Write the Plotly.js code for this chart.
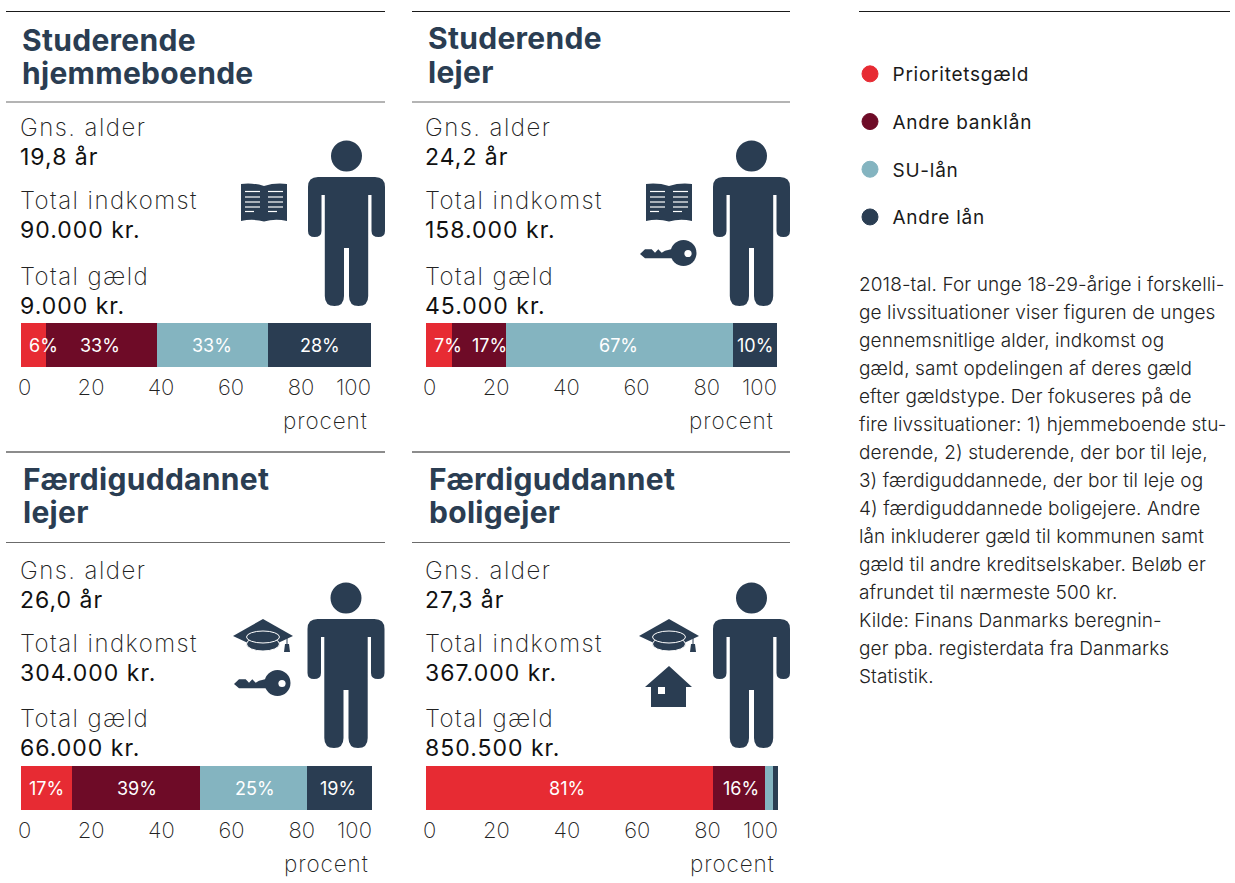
<!DOCTYPE html>
<html><head><meta charset="utf-8">
<script src="https://cdn.plot.ly/plotly-3.0.1.min.js"></script>
<style>html,body{margin:0;padding:0;background:#fff}#c{width:1235px;height:883px}
text.annotation-text[style*="font-size: 24px"]{letter-spacing:1.45px}
text.annotation-text[style*="font-size: 23px"]{letter-spacing:1px}
text.annotation-text[style*="font-size: 22.5px"]{letter-spacing:.9px}
text.annotation-text[style*="font-size: 30px"]{letter-spacing:.3px}
text.annotation-text[style*="font-size: 19px"]{letter-spacing:.1px}
text.legendtext{letter-spacing:.75px}
</style>
</head><body><div id="c"></div>
<script>
// ---------- data ----------
const seriesNames = ['Prioritetsgæld','Andre banklån','SU-lån','Andre lån'];
const panelTitles = [['Studerende','hjemmeboende'],['Studerende','lejer'],['Færdiguddannet','lejer'],['Færdiguddannet','boligejer']];
const ages = ['19,8 år','24,2 år','26,0 år','27,3 år'];
const incomes = ['90.000 kr.','158.000 kr.','304.000 kr.','367.000 kr.'];
const debts = ['9.000 kr.','45.000 kr.','66.000 kr.','850.500 kr.'];
const prioritets = [7.1,7.4,14.5,81.5];
const andreBank  = [31.7,15.4,36.5,14.8];
const suLaan     = [31.7,64.7,30.5,2.3];
const andreLaan  = [29.5,12.5,18.5,1.4];
const printedPct = [['6%','33%','33%','28%'],['7%','17%','67%','10%'],['17%','39%','25%','19%'],['81%','16%','','']];
const xTicks = [0,20,40,60,80,100];
const noteLines = ['2018-tal. For unge 18-29-årige i forskelli-','ge livssituationer viser figuren de unges','gennemsnitlige alder, indkomst og','gæld, samt opdelingen af deres gæld','efter gældstype. Der fokuseres på de','fire livssituationer: 1) hjemmeboende stu-','derende, 2) studerende, der bor til leje,','3) færdiguddannede, der bor til leje og','4) færdiguddannede boligejere. Andre','lån inkluderer gæld til kommunen samt','gæld til andre kreditselskaber. Beløb er','afrundet til nærmeste 500 kr.','Kilde: Finans Danmarks beregnin-','ger pba. registerdata fra Danmarks','Statistik.'];

// ---------- style / layout ----------
const colors = ['#E72B33','#6E0B27','#84B4C0','#2A3D52'];
const NAVY = '#2A3D52';
const W=1235,H=883;
const FONT='Inter, sans-serif';
const barBox=[[21,371,323,367],[426,777,323,367],[21,372,766,810],[426,778,766,810]];
const labelPos=[[6.3,22.6,54.6,85.4],[6.3,18,54.8,93.7],[7.4,33,66.7,90.3],[40,89.5,0,0]];
const textX=[18.5,423.5,18.5,423.5];
const rows=[[127.5,156.5,200.5,229.5,276.5,305.5],[127.5,156.5,200.5,229.5,276.5,305.5],[570.5,599.5,643.5,672.5,718.5,747.5],[570.5,599.5,643.5,672.5,718.5,747.5]];
const titleXY=[[21,39.5,72.5],[427,37.5,71.5],[22,478.5,511.5],[428,478.5,511.5]];
const ruleXY=[[6,385,11.5,102],[412,790,11.5,102],[6,385,452,542.5],[412,790,452,542.5]];
const person=[[346.5,177],[751.5,177],[346,619],[751.5,619]];

const data=[], annotations=[], shapes=[];
function txt(x,y,text,size,color,weight,anchor){
  annotations.push({xref:'x',yref:'y',x,y,text,showarrow:false,xanchor:anchor||'left',yanchor:'middle',
    font:{family:FONT,size,color,weight:weight||400},borderpad:0});
}
function rule(x0,x1,y,color){shapes.push({type:'line',xref:'x',yref:'y',x0,x1,y0:y,y1:y,line:{color,width:1.2}});}
function fill(path,c){shapes.push({type:'path',xref:'x',yref:'y',path,fillcolor:c||NAVY,line:{width:0}});}
function circ(cx,cy,rx,ry,c,lc){shapes.push({type:'circle',xref:'x',yref:'y',x0:cx-rx,x1:cx+rx,y0:cy-ry,y1:cy+ry,fillcolor:c||NAVY,line:lc?{color:lc,width:1}:{width:0}});}
function seg(x0,y0,x1,y1,w,c){shapes.push({type:'line',xref:'x',yref:'y',x0,y0,x1,y1,line:{color:c||'#fff',width:w||1}});}
function offs(cmds,dx,dy){return cmds.map(c=>c[0]+c.slice(1).map((v,i)=>(v+(i%2?dy:dx)).toFixed(1)).join(' ')).join(' ');}

function drawPerson(cx,y0){
  circ(cx,y0-21,15.5,15.5);
  fill(offs([['M',-28.5,0],['L',28.5,0],['Q',38.5,0,38.5,10],['L',38.5,54],['Q',38.5,60,32,60],['Q',25,60,25,54],['L',25,18],['L',21.7,18],
    ['L',21.7,119],['Q',21.7,129,12,129],['Q',2.5,129,2.5,119],['L',2.5,71],['L',-2.5,71],['L',-2.5,119],['Q',-2.5,129,-12,129],['Q',-21.7,129,-21.7,119],
    ['L',-21.7,18],['L',-25,18],['L',-25,54],['Q',-25,60,-32,60],['Q',-38.5,60,-38.5,54],['L',-38.5,10],['Q',-38.5,0,-28.5,0],['Z']],cx,y0));
}
function drawBook(dx,dy){
  fill(offs([['M',241,184],['Q',253,182.5,264,186],['Q',275,182.5,287,184],['L',287,221],['Q',275,218.5,264,221.5],['Q',253,218.5,241,221],['Z']],dx,dy));
  [191.5,197,202,207].forEach(y=>{seg(245+dx,y,260+dx,y,1.2);seg(268+dx,y,283+dx,y,1.2);});
  seg(245+dx,211.5,254+dx,211.5,1.2);seg(268+dx,211.5,277+dx,211.5,1.2);
}
function drawKey(dx,dy){
  fill(offs([['M',640,254],['L',645,249.3],['L',651.7,249.3],['L',655,252.7],['L',658.3,249.3],['L',661.7,252.7],['L',665,250.7],['L',675,248.3],['L',675,258.3],['L',645,258.3],['Z']],dx,dy));
  circ(683.5+dx,253+dy,13,13);
  circ(688+dx,253.5+dy,3.6,3.6,'#fff');
}
function drawCap(dx,dy){
  fill(offs([['M',233,636],['L',263,619],['L',293,636],['L',263,650],['Z']],dx,dy));
  circ(263+dx,644+dy,16.5,7,NAVY,'#fff');
  circ(263+dx,637+dy,16.5,6,NAVY,'#fff');
  seg(287+dx,637+dy,287+dx,647+dy,1,NAVY);
  fill(offs([['M',285,644],['L',289,644],['L',290,652],['L',284,652],['Z']],dx,dy));
}
function drawHouse(){
  fill(offs([['M',669,666],['L',692,687],['L',686,687],['L',686,707],['L',651,707],['L',651,687],['L',645,687],['Z']],0,0));
  shapes.push({type:'rect',xref:'x',yref:'y',x0:658,x1:665,y0:687,y1:694,fillcolor:'#fff',line:{width:0}});
}

const layout={width:W,height:H,margin:{l:0,r:0,t:0,b:0},paper_bgcolor:'#fff',plot_bgcolor:'rgba(0,0,0,0)',
  barmode:'stack',bargap:0,hovermode:false,showlegend:true,font:{family:FONT},
  legend:{x:847.5/W,xanchor:'left',y:1-55/H,yanchor:'top',traceorder:'grouped',tracegroupgap:20,itemwidth:35,font:{family:FONT,size:19,color:'#1a1a1a'},bgcolor:'rgba(0,0,0,0)'},
  xaxis:{domain:[0,1],range:[0,W],visible:false,fixedrange:true},
  yaxis:{domain:[0,1],range:[H,0],visible:false,fixedrange:true}
};

// legend entries
seriesNames.forEach((n,i)=>data.push({type:'scatter',mode:'markers',x:[null],y:[null],name:n,legendgroup:n,showlegend:true,
  marker:{color:colors[i],size:16,symbol:'circle',line:{color:colors[i],width:1}},xaxis:'x',yaxis:'y'}));

const seriesVals=[prioritets,andreBank,suLaan,andreLaan];
const TICKF={family:FONT,size:22,color:'#222',weight:200};
barBox.forEach((b,p)=>{
  const id=p+2, xa='x'+id, ya='y'+id;
  layout['xaxis'+id]={domain:[b[0]/W,b[1]/W],range:[0,100],anchor:ya,tickmode:'array',tickvals:xTicks,
    ticktext:xTicks.map(t=>(t===0||t===100)?'':String(t)),ticks:'outside',ticklen:1,tickcolor:'rgba(0,0,0,0)',showgrid:false,zeroline:false,showline:false,
    tickfont:TICKF,fixedrange:true};
  layout['yaxis'+id]={domain:[1-b[3]/H,1-b[2]/H],range:[-0.5,0.5],anchor:xa,visible:false,fixedrange:true};
  seriesNames.forEach((n,s)=>data.push({type:'bar',orientation:'h',y:[0],x:[seriesVals[s][p]],width:1,name:n,legendgroup:n,showlegend:false,
    marker:{color:colors[s],line:{width:0}},xaxis:xa,yaxis:ya}));
  // printed percentage labels
  printedPct[p].forEach((t,s)=>{ if(t) annotations.push({xref:xa,yref:ya,x:labelPos[p][s],y:0,text:t,showarrow:false,xanchor:'center',yanchor:'middle',
    font:{family:FONT,size:18,color:'#fff',weight:400}}); });
  // end tick labels aligned to the bar ends
  annotations.push({xref:xa,yref:'y',x:0,y:b[3]+20,xshift:3,text:String(xTicks[0]),showarrow:false,xanchor:'center',yanchor:'middle',font:TICKF});
  annotations.push({xref:xa,yref:'y',x:100,y:b[3]+20,xshift:2,text:String(xTicks[5]),showarrow:false,xanchor:'right',yanchor:'middle',font:TICKF});
  annotations.push({xref:xa,yref:'y',x:100,y:b[3]+53,xshift:-1,text:'procent',showarrow:false,xanchor:'right',yanchor:'middle',font:{family:FONT,size:22.5,color:'#222',weight:200}});
  // header
  const t=titleXY[p];
  txt(t[0],t[1],panelTitles[p][0],30,NAVY,700);
  txt(t[0],t[2],panelTitles[p][1],30,NAVY,700);
  const r=ruleXY[p];
  rule(r[0],r[1],r[2],'#1a1a1a'); rule(r[0],r[1],r[3],'#6b6b6b');
  const ry=rows[p], tx=textX[p];
  txt(tx,ry[0],'Gns. alder',24,'#222',200); txt(tx,ry[1],ages[p],23,'#111',400);
  txt(tx,ry[2],'Total indkomst',24,'#222',200); txt(tx,ry[3],incomes[p],23,'#111',400);
  txt(tx,ry[4],'Total gæld',24,'#222',200); txt(tx,ry[5],debts[p],23,'#111',400);
  drawPerson(person[p][0],person[p][1]);
});
rule(859,1230,11.5,'#1a1a1a');
drawBook(0,0); drawBook(405,0); drawKey(0,0); drawKey(-406,430); drawCap(0,0); drawCap(406,0); drawHouse();
noteLines.forEach((l,i)=>txt(858,284+i*28.0,l,19,'#222',300));
layout.annotations=annotations; layout.shapes=shapes;
Plotly.newPlot('c',data,layout,{displayModeBar:false,responsive:false});
</script></body></html>
